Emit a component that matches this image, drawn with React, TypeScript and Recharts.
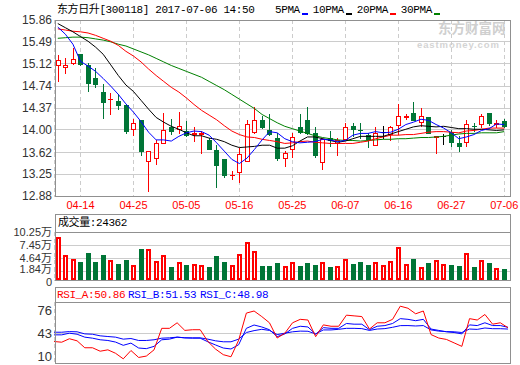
import { ComposedChart, Bar, Line, XAxis, YAxis, CartesianGrid } from "recharts";

const dates = [
  "04-11", "04-12", "04-13", "04-14", "04-17", "04-18", "04-19", "04-20", "04-21", "04-24",
  "04-25", "04-26", "04-27", "04-28", "05-02", "05-03", "05-04", "05-05", "05-08", "05-09",
  "05-10", "05-11", "05-12", "05-15", "05-16", "05-17", "05-18", "05-19", "05-22", "05-23",
  "05-24", "05-25", "05-26", "05-31", "06-01", "06-02", "06-05", "06-06", "06-07", "06-08",
  "06-09", "06-12", "06-13", "06-14", "06-15", "06-16", "06-19", "06-20", "06-21", "06-22",
  "06-23", "06-26", "06-27", "06-28", "06-29", "06-30", "07-03", "07-04", "07-05", "07-06",
];

const opens = [
  15.10, 15.07, 15.13, 15.28, 15.10, 14.88, 14.64, 14.52, 14.49, 14.42,
  14.02, 14.16, 13.48, 13.52, 13.78, 14.04, 14.01, 13.98, 13.93, 13.93,
  13.83, 13.66, 13.51, 13.23, 13.28, 13.48, 13.97, 14.17, 14.00, 13.87,
  13.52, 13.68, 14.04, 14.17, 13.95, 13.45, 13.86, 13.77, 13.84, 14.06,
  14.00, 13.91, 13.75, 13.97, 13.93, 14.08, 14.22, 14.28, 14.13, 14.21,
  13.88, 13.90, 13.97, 13.78, 13.80, 14.07, 14.10, 14.28, 14.10, 14.15,
];
const highs = [
  15.27, 15.22, 15.38, 15.29, 15.13, 15.04, 14.77, 14.62, 14.60, 14.43,
  14.19, 14.17, 13.64, 13.82, 14.29, 14.18, 14.31, 14.15, 14.05, 13.98,
  13.86, 13.75, 13.51, 13.30, 13.70, 14.17, 14.38, 14.24, 14.26, 13.95,
  13.65, 13.95, 14.26, 14.38, 14.04, 13.87, 13.98, 13.86, 14.11, 14.11,
  14.11, 13.95, 14.04, 14.07, 14.07, 14.43, 14.26, 14.47, 14.37, 14.22,
  13.89, 13.93, 14.00, 13.90, 14.17, 14.11, 14.27, 14.28, 14.16, 14.19,
];
const lows = [
  14.83, 14.97, 15.11, 15.10, 14.66, 14.73, 14.20, 14.27, 14.36, 13.95,
  13.91, 13.57, 12.96, 13.43, 13.78, 13.93, 13.95, 13.90, 13.81, 13.61,
  13.68, 13.04, 13.21, 13.17, 13.12, 13.48, 13.95, 14.03, 13.91, 13.49,
  13.38, 13.54, 13.95, 13.93, 13.54, 13.34, 13.72, 13.58, 13.82, 13.90,
  13.86, 13.71, 13.74, 13.86, 13.82, 13.93, 14.19, 14.16, 14.07, 13.94,
  13.61, 13.76, 13.73, 13.65, 13.72, 13.98, 14.04, 14.09, 14.04, 14.04,
];
const closes = [
  15.18, 15.10, 15.20, 15.11, 14.79, 14.77, 14.48, 14.53, 14.42, 13.98,
  14.11, 13.64, 13.64, 13.77, 14.00, 13.98, 14.07, 13.91, 13.94, 13.95,
  13.68, 13.41, 13.24, 13.24, 13.59, 14.10, 14.17, 14.04, 13.93, 13.52,
  13.61, 13.88, 13.97, 13.95, 13.58, 13.84, 13.83, 13.82, 14.05, 14.01,
  13.99, 13.84, 13.95, 13.97, 14.04, 14.24, 14.23, 14.17, 14.23, 13.95,
  13.89, 13.90, 13.80, 13.72, 14.10, 14.06, 14.24, 14.11, 14.11, 14.06,
];

// 成交量, 单位: 万
const volumes = [
  9.12, 5.34, 4.41, 3.92, 5.84, 3.92, 5.34, 4.20, 3.49, 4.27,
  3.13, 6.62, 6.55, 4.06, 5.27, 2.78, 3.84, 3.13, 3.42, 3.13,
  2.78, 5.12, 3.92, 3.13, 5.55, 8.04, 6.12, 2.99, 2.99, 3.70,
  2.99, 3.84, 2.99, 3.63, 3.20, 3.84, 2.78, 2.99, 4.41, 3.42,
  3.84, 3.20, 3.84, 3.20, 4.06, 6.98, 3.42, 4.48, 2.71, 3.70,
  4.27, 3.42, 3.20, 2.99, 5.77, 2.78, 4.20, 3.70, 2.56, 2.4362,
];

const ma5 = [
  15.74, 15.62, 15.45, 15.16, 15.08, 14.99, 14.87, 14.74, 14.60, 14.44,
  14.30, 14.14, 13.96, 13.83, 13.83, 13.81, 13.89, 13.95, 13.98, 13.97,
  13.91, 13.78, 13.64, 13.50, 13.43, 13.52, 13.67, 13.83, 13.97, 13.95,
  13.85, 13.80, 13.78, 13.79, 13.80, 13.84, 13.83, 13.80, 13.82, 13.91,
  13.94, 13.94, 13.97, 13.95, 13.96, 14.01, 14.09, 14.13, 14.18, 14.16,
  14.09, 14.03, 13.95, 13.85, 13.88, 13.92, 13.99, 14.02, 14.10, 14.09,
];
const ma10 = [
  15.80, 15.73, 15.66, 15.58, 15.50, 15.40, 15.28, 15.10, 14.92, 14.76,
  14.65, 14.50, 14.35, 14.21, 14.13, 14.06, 14.01, 13.95, 13.90, 13.90,
  13.86, 13.84, 13.80, 13.74, 13.70, 13.71, 13.72, 13.74, 13.74, 13.69,
  13.69, 13.73, 13.81, 13.88, 13.88, 13.85, 13.82, 13.79, 13.81, 13.85,
  13.89, 13.89, 13.89, 13.89, 13.93, 13.97, 14.01, 14.05, 14.07, 14.06,
  14.05, 14.06, 14.04, 14.02, 14.02, 14.01, 14.01, 14.00, 13.99, 14.00,
];
const ma20 = [
  15.71, 15.69, 15.67, 15.66, 15.64, 15.60, 15.55, 15.50, 15.43, 15.33,
  15.25, 15.15, 15.03, 14.92, 14.82, 14.72, 14.64, 14.54, 14.43, 14.33,
  14.25, 14.17, 14.07, 13.98, 13.92, 13.88, 13.87, 13.84, 13.82, 13.80,
  13.77, 13.78, 13.80, 13.81, 13.79, 13.78, 13.77, 13.77, 13.77, 13.77,
  13.79, 13.81, 13.85, 13.88, 13.91, 13.91, 13.92, 13.92, 13.94, 13.96,
  13.97, 13.97, 13.96, 13.95, 13.98, 13.99, 14.01, 14.03, 14.03, 14.03,
];
const ma30 = [
  15.55, 15.56, 15.57, 15.57, 15.56, 15.54, 15.52, 15.49, 15.45, 15.42,
  15.37, 15.32, 15.27, 15.21, 15.15, 15.09, 15.04, 14.99, 14.94, 14.89,
  14.82, 14.75, 14.68, 14.60, 14.52, 14.44, 14.36, 14.26, 14.19, 14.12,
  14.06, 14.02, 13.98, 13.94, 13.90, 13.87, 13.85, 13.83, 13.82, 13.82,
  13.81, 13.82, 13.83, 13.84, 13.84, 13.85, 13.85, 13.86, 13.87, 13.87,
  13.88, 13.89, 13.91, 13.93, 13.94, 13.94, 13.95, 13.95, 13.95, 13.97,
];

const rsiA = [
  31, 30, 35, 32, 22, 22, 17, 19, 14, 6,
  18, 8, 10, 19, 50, 50, 58, 47, 48, 48,
  31, 20, 12, 9, 33, 72, 75, 67, 58, 36,
  43, 58, 63, 62, 38, 55, 53, 53, 69, 68,
  67, 49, 58, 58, 63, 82, 79, 71, 75, 41,
  36, 34, 29, 24, 64, 62, 70, 56, 58, 50.86,
];
const rsiB = [
  40.6, 40.6, 43, 41.5, 37.3, 35.8, 33.5, 32.5, 30.2, 25.5,
  28.7, 21.6, 20.7, 24, 33.5, 34.4, 37.3, 36.3, 35.8, 35.8,
  30.6, 26, 21.6, 20.2, 26.4, 50, 54.8, 52, 48, 38,
  42, 50, 53, 52, 41.5, 51, 50, 50, 57, 56,
  56, 48, 53, 54, 57, 64, 63, 61, 63, 49,
  47, 45, 44, 42, 55, 54, 58, 54, 54, 51.53,
];
const rsiC = [
  44.4, 44.4, 45.3, 45, 42, 41.5, 39.2, 38.2, 37.3, 34.4,
  35.3, 32.5, 32.5, 33.5, 35.8, 36.3, 37.3, 36.3, 36.3, 36.3,
  34.4, 32, 30.6, 30.6, 34.4, 44, 46.7, 48.6, 47, 41,
  43, 45, 46, 45.8, 42, 47.7, 47.7, 48.6, 50, 50,
  49.6, 47, 49, 49.6, 51.5, 53.9, 54, 53.4, 54, 47.7,
  46, 45.3, 45, 44, 49, 48.5, 50.5, 49.5, 49.5, 48.98,
];

const tickDates = ["04-14", "04-25", "05-05", "05-16", "05-25", "06-07", "06-16", "06-27", "07-06"];
const priceTicks = [12.88, 13.25, 13.62, 14.0, 14.37, 14.74, 15.12, 15.49, 15.86];
const volumeTicks = [0, 1.84, 4.64, 7.45, 10.25];
const rsiTicks = [10, 43, 76];

const rows = dates.map((date, i) => ({
  date,
  open: opens[i],
  high: highs[i],
  low: lows[i],
  close: closes[i],
  volume: volumes[i],
  ma5: ma5[i],
  ma10: ma10[i],
  ma20: ma20[i],
  ma30: ma30[i],
  rsiA: rsiA[i],
  rsiB: rsiB[i],
  rsiC: rsiC[i],
}));

const RED = "#ff0000";
const GREEN = "#007536";
const BLUE = "#0000ff";
const MA30_GREEN = "#008000";
const FRAME = "#909090";
const GRID = "#cccccc";
const SANS = '"Liberation Sans", Arial, "Noto Sans CJK SC", sans-serif';
const MONO = '"Liberation Mono", "Noto Sans CJK SC", monospace';

function CandleShape(props: any) {
  const { x, y, width, height, payload } = props;
  if (x == null || y == null || !payload) return null;
  const { open, close, high, low } = payload;
  const top = Math.min(y, y + height);
  const k = high > low ? Math.abs(height) / (high - low) : 0;
  const py = (v: number) => Math.round(top + (high - v) * k);
  const c = Math.round(x + width / 2);
  const yH = py(high);
  const yL = py(low);
  const yA = py(Math.max(open, close));
  const yB = py(Math.min(open, close));
  const color = close > open ? RED : close < open ? GREEN : "#000000";
  if (yB - yA < 1) {
    return (
      <g>
        <line x1={c + 0.5} x2={c + 0.5} y1={yH} y2={yL + 1} stroke={color} />
        <line x1={c - 2} x2={c + 3} y1={yA + 0.5} y2={yA + 0.5} stroke={color} />
      </g>
    );
  }
  if (close > open) {
    return (
      <g>
        <line x1={c + 0.5} x2={c + 0.5} y1={yH} y2={yA} stroke={color} />
        <line x1={c + 0.5} x2={c + 0.5} y1={yB + 1} y2={yL + 1} stroke={color} />
        <rect x={c - 1.5} y={yA + 0.5} width={4} height={yB - yA} fill="#ffffff" stroke={color} />
      </g>
    );
  }
  return (
    <g>
      <line x1={c + 0.5} x2={c + 0.5} y1={yH} y2={yL + 1} stroke={color} />
      <rect x={c - 2} y={yA} width={5} height={yB - yA + 1} fill={color} />
    </g>
  );
}

function VolumeShape(props: any) {
  const { x, y, width, height, payload } = props;
  if (x == null || y == null || !payload) return null;
  const c = Math.round(x + width / 2);
  const t = Math.round(Math.min(y, y + height));
  const b = Math.round(Math.max(y, y + height));
  if (payload.close >= payload.open) {
    return <rect x={c - 1} y={t + 1} width={3} height={Math.max(b - t - 2, 0)} fill="#ffffff" stroke={RED} strokeWidth={2} />;
  }
  return <rect x={c - 2} y={t} width={5} height={b - t} fill={GREEN} />;
}

// 成交量纵轴刻度: 0 与 1.84万 间距很小, 各自略微错开
function VolumeTick(props: any) {
  const { x, y, payload } = props;
  const v = payload.value as number;
  const dy = v === 0 ? 6 : v < 2 ? 2 : 3.5;
  return (
    <text x={x} y={y} dy={dy} textAnchor="end" fontSize={11} fill="#333333" fontFamily={SANS}>
      {v === 0 ? "0" : `${v.toFixed(2)}万`}
    </text>
  );
}

const legendItems = [
  { label: "5PMA", color: BLUE },
  { label: "10PMA", color: "#000000" },
  { label: "20PMA", color: RED },
  { label: "30PMA", color: MA30_GREEN },
];

const box = (left: number, top: number, width: number, height: number) => (
  <div
    style={{
      position: "absolute",
      left,
      top,
      width,
      height,
      border: `1px solid ${FRAME}`,
      boxSizing: "border-box",
      pointerEvents: "none",
    }}
  />
);

const hline = (top: number) => (
  <div style={{ position: "absolute", left: 55, top, width: 456, height: 1, background: FRAME }} />
);

const yTick = { fontSize: 12, fill: "#333333", fontFamily: SANS };
const headText = { position: "absolute" as const, fontFamily: MONO, fontSize: 11, letterSpacing: -0.4, lineHeight: "14px" };

export default function App() {
  return (
    <div
      style={{
        position: "absolute",
        left: 0,
        top: 0,
        width: 520,
        height: 365,
        overflow: "hidden",
        background: "#ffffff",
      }}
    >
      {/* watermark */}
      <div
        style={{
          position: "absolute",
          left: 438,
          top: 20,
          fontFamily: '"Noto Sans CJK SC", sans-serif',
          fontWeight: 700,
          fontSize: 13.5,
          color: "#cfcfcf",
          lineHeight: "15px",
          whiteSpace: "nowrap",
        }}
      >
        东方财富网
      </div>
      <div
        style={{
          position: "absolute",
          left: 417,
          top: 40,
          fontFamily: SANS,
          fontWeight: 700,
          fontSize: 9.5,
          color: "#d4d4d4",
          letterSpacing: 0.9,
          lineHeight: "9px",
          whiteSpace: "nowrap",
        }}
      >
        eastmoney.com
      </div>

      <div style={{ ...headText, left: 57, top: 3, color: "#000", whiteSpace: "nowrap" }}>
        东方日升[300118] 2017-07-06 14:50
      </div>
      <div style={{ ...headText, left: 275, top: 3, display: "flex", color: "#000", whiteSpace: "nowrap" }}>
        {legendItems.map((it) => (
          <span key={it.label} style={{ display: "flex", alignItems: "flex-end", marginRight: 5 }}>
            {it.label}
            <span style={{ width: 6, height: 2, background: it.color, marginLeft: 2, marginBottom: 2 }} />
          </span>
        ))}
      </div>

      {/* 主图 K线 + 均线 */}
      <div style={{ position: "absolute", left: 0, top: 0 }}>
        <ComposedChart width={520} height={216} data={rows} margin={{ top: 20, right: 10, bottom: 0, left: 0 }}>
          <CartesianGrid stroke={GRID} vertical={false} shapeRendering="crispEdges" />
          <CartesianGrid stroke={GRID} horizontal={false} strokeDasharray="4 3" shapeRendering="crispEdges" />
          <XAxis
            dataKey="date"
            ticks={tickDates}
            interval={0}
            padding={{ left: 0, right: 2 }}
            height={20}
            axisLine={false}
            tickLine={false}
            tickSize={0}
            tickMargin={5}
            tick={{ fontSize: 11, fill: RED, fontFamily: SANS }}
          />
          <YAxis
            domain={[12.88, 15.86]}
            ticks={priceTicks}
            interval={0}
            allowDataOverflow
            width={54}
            axisLine={false}
            tickLine={false}
            tickSize={0}
            tickMargin={2}
            tick={yTick}
            tickFormatter={(v: number) => v.toFixed(2)}
          />
          <Bar
            dataKey={(d: any) => [d.low, d.high]}
            barSize={5}
            shape={CandleShape}
            isAnimationActive={false}
          />
          <Line dataKey="ma30" stroke={MA30_GREEN} strokeWidth={1} dot={false} isAnimationActive={false} />
          <Line dataKey="ma20" stroke={RED} strokeWidth={1} dot={false} isAnimationActive={false} />
          <Line dataKey="ma10" stroke="#000000" strokeWidth={1} dot={false} isAnimationActive={false} />
          <Line dataKey="ma5" stroke={BLUE} strokeWidth={1} dot={false} isAnimationActive={false} />
        </ComposedChart>
      </div>

      {/* 成交量 */}
      <div style={{ ...headText, left: 58, top: 216, color: "#000" }}>成交量:24362</div>
      <div style={{ position: "absolute", left: 0, top: 226 }}>
        <ComposedChart width={520} height={62} data={rows} margin={{ top: 6, right: 10, bottom: 7, left: 0 }}>
          <CartesianGrid stroke={GRID} vertical={false} shapeRendering="crispEdges" />
          <CartesianGrid stroke={GRID} horizontal={false} strokeDasharray="4 3" shapeRendering="crispEdges" />
          <XAxis
            dataKey="date"
            ticks={tickDates}
            interval={0}
            padding={{ left: 0, right: 2 }}
            height={1}
            axisLine={false}
            tickLine={false}
            tick={false}
          />
          <YAxis
            domain={[0, 10.25]}
            ticks={volumeTicks}
            interval={0}
            allowDataOverflow
            width={54}
            axisLine={false}
            tickLine={false}
            tickSize={0}
            tickMargin={2}
            tick={VolumeTick}
          />
          <Bar dataKey="volume" barSize={5} shape={VolumeShape} isAnimationActive={false} />
        </ComposedChart>
      </div>

      {/* RSI */}
      <div style={{ ...headText, left: 57, top: 288, color: RED }}>RSI_A:50.86</div>
      <div style={{ ...headText, left: 128, top: 288, color: BLUE }}>RSI_B:51.53</div>
      <div style={{ ...headText, left: 200, top: 288, color: BLUE }}>RSI_C:48.98</div>
      <div style={{ position: "absolute", left: 0, top: 296 }}>
        <ComposedChart width={520} height={72} data={rows} margin={{ top: 6, right: 10, bottom: 4, left: 0 }}>
          <CartesianGrid stroke={GRID} vertical={false} horizontalValues={[43]} shapeRendering="crispEdges" />
          <CartesianGrid stroke={GRID} horizontal={false} strokeDasharray="4 3" shapeRendering="crispEdges" />
          <XAxis
            dataKey="date"
            ticks={tickDates}
            interval={0}
            padding={{ left: 0, right: 2 }}
            height={1}
            axisLine={false}
            tickLine={false}
            tick={false}
          />
          <YAxis
            domain={[0, 88]}
            ticks={rsiTicks}
            interval={0}
            allowDataOverflow
            width={54}
            axisLine={false}
            tickLine={false}
            tickSize={0}
            tickMargin={2}
            tick={{ ...yTick, fontSize: 13 }}
          />
          <Line dataKey="rsiC" stroke={BLUE} strokeWidth={1} dot={false} isAnimationActive={false} />
          <Line dataKey="rsiB" stroke={BLUE} strokeWidth={1} dot={false} isAnimationActive={false} />
          <Line dataKey="rsiA" stroke={RED} strokeWidth={1} dot={false} isAnimationActive={false} />
        </ComposedChart>
      </div>

      {/* 边框 */}
      {box(55, 20, 456, 177)}
      {box(55, 214, 456, 67)}
      {hline(232)}
      {box(55, 287, 456, 77)}
      {hline(302)}
    </div>
  );
}
